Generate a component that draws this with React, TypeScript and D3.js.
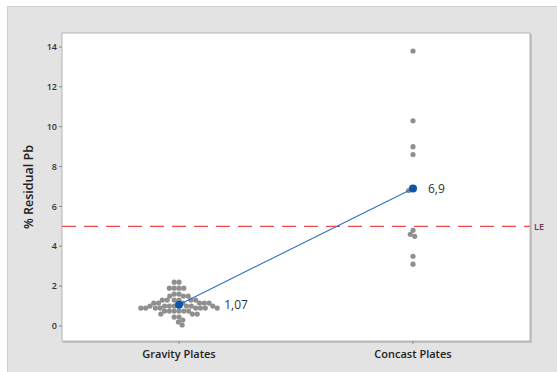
import * as d3 from "d3";

// categories and summary
const categories = ["Gravity Plates", "Concast Plates"];
const means = [1.07, 6.9];
const meanLabels = ["1,07", "6,9"];
const yTicks = [0, 2, 4, 6, 8, 10, 12, 14];
const limitValue = 5;
const limitLabel = "LE";

// individual values
const gravityValues = [
  2.2, 2.2, 1.9, 1.9, 1.9, 1.9, 1.6, 1.6, 1.5, 1.5, 1.5, 1.3, 1.3, 1.3, 1.3,
  1.3, 1.3, 1.15, 1.15, 1.15, 1.15, 1.15, 1.15, 1.0, 1.0, 1.0, 1.0, 1.0, 1.0,
  1.0, 1.0, 0.9, 0.9, 0.9, 0.9, 0.9, 0.9, 0.9, 0.9, 0.75, 0.75, 0.75, 0.75,
  0.75, 0.75, 0.6, 0.6, 0.6, 0.45, 0.45, 0.3, 0.2, 0.05,
];
const concastValues = [13.8, 10.3, 9.0, 8.6, 6.9, 6.8, 4.8, 4.6, 4.5, 3.5, 3.1];
const groups = [gravityValues, concastValues];

const W = 557;
const H = 372;
const plot = { left: 62, right: 530, top: 33, bottom: 341 };
const R = 2.6;
const FONT = "'Open Sans', 'Noto Sans', sans-serif";

// simple beeswarm: put each dot as near the centre as it can go
function swarm(values: number[], y: (v: number) => number, d: number) {
  const placed: { x: number; y: number }[] = [];
  const sorted = [...values].sort((a, b) => b - a);
  sorted.forEach((v, i) => {
    const py = y(v);
    const cands = [0];
    placed.forEach((p) => {
      const dy = Math.abs(p.y - py);
      if (dy < d) {
        const dx = Math.sqrt(d * d - dy * dy);
        cands.push(p.x + dx + 0.01, p.x - dx - 0.01);
      }
    });
    const ok = cands.filter((cx) =>
      placed.every((p) => (p.x - cx) ** 2 + (p.y - py) ** 2 >= d * d - 0.01)
    );
    ok.sort((a, b) => Math.abs(a) - Math.abs(b) || (i % 2 ? a - b : b - a));
    placed.push({ x: ok[0], y: py });
  });
  return placed;
}

export default function App() {
  const x = d3
    .scalePoint<string>()
    .domain(categories)
    .range([plot.left, plot.right])
    .padding(0.5);
  const y = d3.scaleLinear().domain([0, 14]).range([326, 47]);

  const meanLine = d3
    .line<number>()
    .x((_, i) => x(categories[i]) as number)
    .y((d) => y(d));

  const swarms = groups.map((vals) => swarm(vals, y, 4.8));

  return (
    <svg
      width={W}
      height={H}
      style={{ position: "absolute", left: 0, top: 0 }}
      fontFamily={FONT}
    >
      <rect x={0} y={0} width={W} height={H} fill="#fff" />
      <rect x={7.5} y={6.5} width={W} height={H} fill="#e3e3e3" stroke="#cfcfcf" />
      {/* plot area with shadow edge */}
      <rect
        x={plot.left + 1}
        y={plot.top + 1}
        width={plot.right - plot.left + 1}
        height={plot.bottom - plot.top + 1}
        fill="#c4c4c4"
      />
      <rect
        x={plot.left}
        y={plot.top}
        width={plot.right - plot.left}
        height={plot.bottom - plot.top}
        fill="#fff"
        stroke="#a6a6a6"
        strokeWidth={0.8}
      />

      {/* y axis ticks */}
      {yTicks.map((t) => (
        <g key={t} transform={`translate(0,${y(t)})`}>
          <line x1={plot.left - 3} x2={plot.left} stroke="#888" />
          <text
            x={plot.left - 5}
            dy="0.35em"
            textAnchor="end"
            fontSize={9}
            fontWeight={600}
            fill="#333"
          >
            {t}
          </text>
        </g>
      ))}
      <text
        transform={`translate(33,${(plot.top + plot.bottom) / 2}) rotate(-90)`}
        textAnchor="middle"
        fontSize={12.5}
        fontWeight={600}
        fill="#222"
      >
        % Residual Pb
      </text>

      {/* x axis */}
      {categories.map((c) => (
        <g key={c} transform={`translate(${x(c)},0)`}>
          <line y1={plot.bottom} y2={plot.bottom + 3} stroke="#888" />
          <text
            y={plot.bottom + 17}
            textAnchor="middle"
            fontSize={11}
            fontWeight={600}
            fill="#222"
          >
            {c}
          </text>
        </g>
      ))}

      {/* limit line */}
      <line
        x1={plot.left}
        x2={plot.right}
        y1={y(limitValue)}
        y2={y(limitValue)}
        stroke="#ea4b4b"
        strokeWidth={1.4}
        strokeDasharray="14 8"
      />
      <text
        x={plot.right + 4}
        y={y(limitValue)}
        dy="0.35em"
        fontSize={9}
        fontWeight={600}
        fill="#6b3a55"
      >
        {limitLabel}
      </text>

      {/* individual values */}
      {swarms.map((pts, gi) => {
        const cx = x(categories[gi]) as number;
        return pts.map((p, i) => (
          <circle key={`${gi}-${i}`} cx={cx + p.x} cy={p.y} r={R} fill="#8f8f8f" />
        ));
      })}

      {/* mean connect line */}
      <path d={meanLine(means) ?? ""} fill="none" stroke="#2a72c4" strokeWidth={1.1} />
      {means.map((m, i) => {
        const cx = x(categories[i]) as number;
        const near = swarms[i].filter((p) => Math.abs(p.y - y(m)) < 6);
        const edge = d3.max(near, (p) => p.x) ?? 0;
        return (
          <g key={i}>
            <circle cx={cx} cy={y(m)} r={4} fill="#0b56a8" />
            <text
              x={cx + Math.max(15, edge + 7)}
              y={y(m)}
              dy="0.35em"
              fontSize={12}
              fill="#333"
            >
              {meanLabels[i]}
            </text>
          </g>
        );
      })}
    </svg>
  );
}
